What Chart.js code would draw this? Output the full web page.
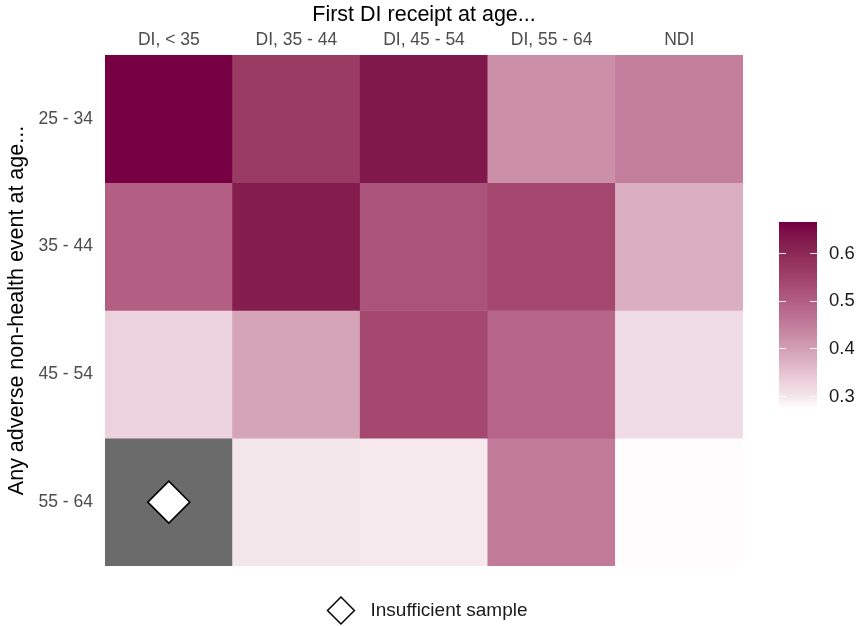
<!DOCTYPE html>
<html>
<head>
<meta charset="utf-8">
<script src="https://cdn.jsdelivr.net/npm/chart.js@4.4.1/dist/chart.umd.min.js"></script>
<style>
html,body{margin:0;padding:0;background:#fff;overflow:hidden}
#wrap{width:859px;height:630px;position:relative}
</style>
</head>
<body>
<div id="wrap"><canvas id="c"></canvas></div>
<script>
// ---- data ----
const columns = ['DI, < 35', 'DI, 35 - 44', 'DI, 45 - 54', 'DI, 55 - 64', 'NDI'];
const rows = ['25 - 34', '35 - 44', '45 - 54', '55 - 64'];
const row25_34 = [0.665, 0.565, 0.635, 0.425, 0.45];
const row35_44 = [0.50, 0.625, 0.52, 0.54, 0.38];
const row45_54 = [0.33, 0.395, 0.54, 0.49, 0.315];
const row55_64 = [null, 0.30, 0.298, 0.455, 0.278];
const rowValues = [row25_34, row35_44, row45_54, row55_64];
const colorbarTicks = [0.3, 0.4, 0.5, 0.6];
const fillMin = 0.275, fillMax = 0.665;
const insufficientLabel = 'Insufficient sample';

// ---- colour scale: palette stops, interpolated in Lab ----
const paletteValues = [0.275, 0.30, 0.35, 0.40, 0.45, 0.50, 0.55, 0.60, 0.665];
const paletteColors = ['#ffffff', '#f4e7ec', '#e6c4d1', '#d3a0b4', '#c27e9b', '#b35f84', '#a0426a', '#8d2a55', '#760042'];
const NA_COLOR = '#6b6b6b';
function hex2rgb(h){return [1,3,5].map(i=>parseInt(h.substr(i,2),16));}
function toLin(c){c/=255;return c<=0.04045?c/12.92:Math.pow((c+0.055)/1.055,2.4);}
function toSrgb(c){const v=c<=0.0031308?12.92*c:1.055*Math.pow(c,1/2.4)-0.055;return Math.round(Math.max(0,Math.min(1,v))*255);}
function rgb2lab(rgb){
  const r=toLin(rgb[0]),g=toLin(rgb[1]),b=toLin(rgb[2]);
  const X=(0.4124*r+0.3576*g+0.1805*b)/0.95047,Y=(0.2126*r+0.7152*g+0.0722*b),Z=(0.0193*r+0.1192*g+0.9505*b)/1.08883;
  const f=t=>t>0.008856?Math.cbrt(t):7.787*t+16/116;
  const fx=f(X),fy=f(Y),fz=f(Z);
  return [116*fy-16,500*(fx-fy),200*(fy-fz)];
}
function lab2rgb(lab){
  const fy=(lab[0]+16)/116,fx=fy+lab[1]/500,fz=fy-lab[2]/200;
  const fi=t=>{const t3=t*t*t;return t3>0.008856?t3:(t-16/116)/7.787;};
  const X=fi(fx)*0.95047,Y=fi(fy),Z=fi(fz)*1.08883;
  const r=3.2406*X-1.5372*Y-0.4986*Z,g=-0.9689*X+1.8758*Y+0.0415*Z,b=0.0557*X-0.2040*Y+1.0570*Z;
  return [toSrgb(r),toSrgb(g),toSrgb(b)];
}
const paletteLab = paletteColors.map(c => rgb2lab(hex2rgb(c)));
function fillColor(v){
  if (v === null || v === undefined) return NA_COLOR;
  const x = Math.max(paletteValues[0], Math.min(paletteValues[paletteValues.length-1], v));
  let k = 0;
  while (k < paletteValues.length - 2 && x > paletteValues[k+1]) k++;
  const t = (x - paletteValues[k]) / (paletteValues[k+1] - paletteValues[k]);
  const a = paletteLab[k], b = paletteLab[k+1];
  return 'rgb(' + lab2rgb([0,1,2].map(i => a[i] + (b[i] - a[i]) * t)).join(',') + ')';
}

const FONT = "'Liberation Sans', Arial, Helvetica, sans-serif";

// ---- datasets ----
const datasets = rows.map((r, i) => ({
  type: 'bar',
  label: r,
  data: columns.map(() => 1),
  backgroundColor: rowValues[i].map(fillColor),
  borderWidth: 0,
  barPercentage: 1,
  categoryPercentage: 1,
  stack: 'tiles',
  order: 1
}));
const naPoints = [];
rowValues.forEach((vals, i) => vals.forEach((v, j) => { if (v === null) naPoints.push({x: columns[j], y: i + 0.5}); }));
datasets.push({
  type: 'scatter',
  label: insufficientLabel,
  data: naPoints,
  pointStyle: 'rectRot',
  pointRadius: 21,
  backgroundColor: '#ffffff',
  borderColor: '#000000',
  borderWidth: 1.5,
  stack: 'markers',
  order: -1
});

// ---- colour bar plugin ----
const colorbarPlugin = {
  id: 'colorbar',
  afterDraw(chart) {
    const ctx = chart.ctx, ca = chart.chartArea;
    const left = ca.right + 36, width = 38, top = ca.top + 167, height = 186;
    const bottom = top + height;
    const yOf = v => bottom - (v - fillMin) / (fillMax - fillMin) * height;
    ctx.save();
    const n = 186;
    for (let k = 0; k < n; k++) {
      const v0 = fillMin + (fillMax - fillMin) * k / n;
      const v1 = fillMin + (fillMax - fillMin) * (k + 1) / n;
      ctx.fillStyle = fillColor((v0 + v1) / 2);
      const y1 = yOf(v1), y0 = yOf(v0);
      ctx.fillRect(left, y1, width, y0 - y1 + 0.6);
    }
    ctx.strokeStyle = 'rgba(255,255,255,0.9)';
    ctx.lineWidth = 1;
    ctx.font = '18.5px ' + FONT;
    ctx.fillStyle = '#1a1a1a';
    ctx.textAlign = 'left';
    ctx.textBaseline = 'middle';
    colorbarTicks.forEach(v => {
      const y = Math.round(yOf(v)) + 0.5;
      ctx.beginPath();
      ctx.moveTo(left, y); ctx.lineTo(left + 7, y);
      ctx.moveTo(left + width - 7, y); ctx.lineTo(left + width, y);
      ctx.stroke();
      ctx.fillText(v.toFixed(1), left + width + 12, yOf(v) + 0.5);
    });
    ctx.restore();
  }
};

new Chart(document.getElementById('c'), {
  type: 'bar',
  data: { labels: columns, datasets },
  plugins: [colorbarPlugin],
  options: {
    responsive: true,
    maintainAspectRatio: false,
    animation: false,
    events: [],
    layout: { padding: 0 },
    plugins: {
      tooltip: { enabled: false },
      title: { display: false },
      legend: {
        display: true,
        position: 'bottom',
        labels: {
          filter: item => item.text.trim() === insufficientLabel,
          generateLabels(chart) {
            return Chart.defaults.plugins.legend.labels.generateLabels(chart).map(it => Object.assign(it, { text: '  ' + it.text }));
          },
          usePointStyle: true,
          boxHeight: 19,
          boxWidth: 19,
          padding: 35,
          color: '#1a1a1a',
          font: { size: 19, family: FONT }
        }
      }
    },
    scales: {
      x: {
        type: 'category',
        position: 'top',
        stacked: true,
        offset: true,
        grid: { display: false, drawTicks: false },
        border: { display: false },
        ticks: { color: '#4d4d4d', font: { size: 17.5, family: FONT }, padding: 4, maxRotation: 0, autoSkip: false },
        title: { display: true, text: 'First DI receipt at age...', color: '#000', font: { size: 21.5, family: FONT }, padding: { top: 2, bottom: 0 } },
        afterFit(scale) { scale.height = 55; }
      },
      y: {
        type: 'linear',
        stacked: true,
        reverse: true,
        min: 0,
        max: rows.length,
        grid: { display: false, drawTicks: false },
        border: { display: false },
        afterBuildTicks(scale) { scale.ticks = rows.map((r, i) => ({ value: i + 0.5 })); },
        ticks: { color: '#4d4d4d', font: { size: 17.5, family: FONT }, padding: 12, callback: v => rows[Math.floor(v)] },
        title: { display: true, text: 'Any adverse non-health event at age...', color: '#000', font: { size: 21.5, family: FONT }, padding: { top: 4, bottom: 0 } },
        afterFit(scale) { scale.width = 105; }
      },
      legendSpace: {
        type: 'linear',
        position: 'right',
        display: true,
        grid: { display: false, drawTicks: false },
        border: { display: false },
        ticks: { display: false },
        afterFit(scale) { scale.width = 116; }
      }
    }
  }
});
</script>
</body>
</html>
